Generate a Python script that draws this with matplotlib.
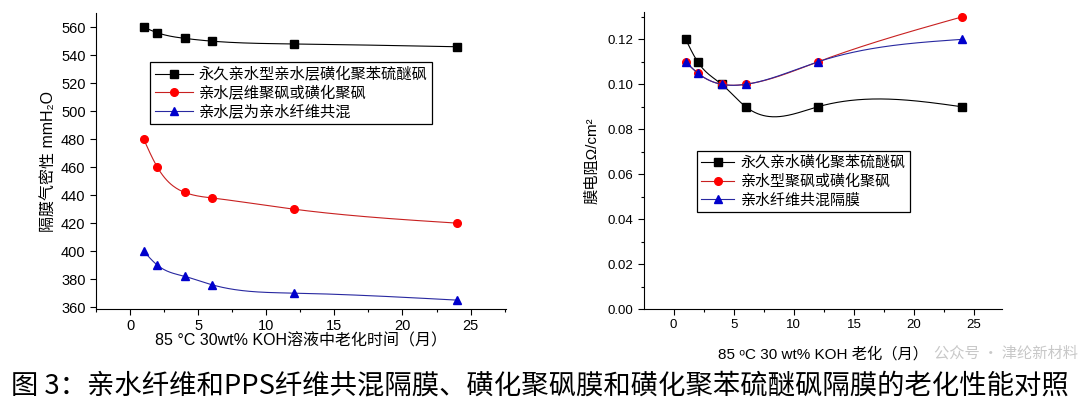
import numpy as np
import matplotlib
matplotlib.use("Agg")
import matplotlib.pyplot as plt
from matplotlib.ticker import MultipleLocator

plt.rcParams["font.family"] = ["Liberation Sans", "Noto Sans CJK SC", "DejaVu Sans"]

# aging time (months)
months = [1, 2, 4, 6, 12, 24]

# left: gas tightness (mmH2O)
left_labels = ["永久亲水型亲水层磺化聚苯硫醚砜", "亲水层维聚砜或磺化聚砜", "亲水层为亲水纤维共混"]
tight_pps = [560, 556, 552, 550, 548, 546]
tight_psf = [480, 460, 442, 438, 430, 420]
tight_fib = [400, 390, 382, 376, 370, 365]

# right: membrane resistance (ohm/cm2)
right_labels = ["永久亲水磺化聚苯硫醚砜", "亲水型聚砜或磺化聚砜", "亲水纤维共混隔膜"]
res_pps = [0.12, 0.11, 0.10, 0.09, 0.09, 0.09]
res_psf = [0.11, 0.105, 0.10, 0.10, 0.11, 0.13]
res_fib = [0.11, 0.105, 0.10, 0.10, 0.11, 0.12]

caption = "图 3：亲水纤维和PPS纤维共混隔膜、磺化聚砜膜和磺化聚苯硫醚砜隔膜的老化性能对照"


def spline_line(x, y, n=300):
    # natural cubic spline through the points (smooth connecting line like Origin)
    x = np.asarray(x, float)
    y = np.asarray(y, float)
    k = len(x)
    h = np.diff(x)
    A = np.zeros((k, k))
    b = np.zeros(k)
    A[0, 0] = 1
    A[-1, -1] = 1
    for i in range(1, k - 1):
        A[i, i - 1] = h[i - 1]
        A[i, i] = 2 * (h[i - 1] + h[i])
        A[i, i + 1] = h[i]
        b[i] = 6 * ((y[i + 1] - y[i]) / h[i] - (y[i] - y[i - 1]) / h[i - 1])
    m = np.linalg.solve(A, b)
    xs = np.linspace(x[0], x[-1], n)
    idx = np.clip(np.searchsorted(x, xs) - 1, 0, k - 2)
    x0, x1 = x[idx], x[idx + 1]
    hh = x1 - x0
    t0 = x1 - xs
    t1 = xs - x0
    ys = (m[idx] * t0 ** 3 + m[idx + 1] * t1 ** 3) / (6 * hh) \
        + (y[idx] / hh - m[idx] * hh / 6) * t0 \
        + (y[idx + 1] / hh - m[idx + 1] * hh / 6) * t1
    return xs, ys


def draw_series(ax, ys, color, lcolor, marker, label):
    xs, ss = spline_line(months, ys)
    ax.plot(xs, ss, color=lcolor, lw=0.8)
    ax.plot(months, ys, linestyle="none", marker=marker, color=color, ms=5.5)
    ax.plot([], [], color=lcolor, lw=0.8, marker=marker, mfc=color, mec=color,
            ms=5.5, label=label)


def style_axes(ax, fs):
    ax.spines["top"].set_visible(False)
    ax.spines["right"].set_visible(False)
    ax.tick_params(direction="out", length=4, width=0.8, labelsize=fs)
    ax.tick_params(which="minor", direction="out", length=2.5, width=0.8)
    ax.xaxis.set_major_locator(MultipleLocator(5))
    ax.xaxis.set_minor_locator(MultipleLocator(2.5))


fig = plt.figure(figsize=(10.8, 4.11), dpi=100)

# left chart
ax1 = fig.add_axes([0.0889, 0.248, 0.3796, 0.720])
draw_series(ax1, tight_pps, "black", "black", "s", left_labels[0])
draw_series(ax1, tight_psf, "red", "#c82020", "o", left_labels[1])
draw_series(ax1, tight_fib, "#0000cc", "#2828a0", "^", left_labels[2])
ax1.set_xlim(-2.5, 27.6)
ax1.set_ylim(358.6, 570)
ax1.yaxis.set_major_locator(MultipleLocator(20))
style_axes(ax1, 10.5)
ax1.set_xlabel("85 °C 30wt% KOH溶液中老化时间（月）", fontsize=11.5, labelpad=0)
ax1.set_ylabel("隔膜气密性 mmH₂O", fontsize=11.5, labelpad=4)
leg1 = ax1.legend(loc="upper left", bbox_to_anchor=(0.132, 0.834), borderaxespad=0,
                  fontsize=11, handlelength=2.5, handletextpad=0.4, labelspacing=0.25,
                  numpoints=1, fancybox=False, edgecolor="black", framealpha=1,
                  borderpad=0.3)
leg1.get_frame().set_linewidth(0.9)

# right chart
ax2 = fig.add_axes([0.5963, 0.248, 0.3312, 0.7235])
draw_series(ax2, res_pps, "black", "black", "s", right_labels[0])
draw_series(ax2, res_psf, "red", "#c82020", "o", right_labels[1])
draw_series(ax2, res_fib, "#0000cc", "#2828a0", "^", right_labels[2])
ax2.set_xlim(-2.47, 27.3)
ax2.set_ylim(0, 0.1323)
ax2.yaxis.set_major_locator(MultipleLocator(0.02))
ax2.yaxis.set_minor_locator(MultipleLocator(0.01))
ax2.yaxis.set_major_formatter(plt.FormatStrFormatter("%.2f"))
style_axes(ax2, 9.5)
ax2.set_xlabel("85 ᵒC 30 wt% KOH 老化（月）", fontsize=11, labelpad=11)
ax2.set_ylabel("膜电阻Ω/cm²", fontsize=11, labelpad=6)
leg2 = ax2.legend(loc="upper left", bbox_to_anchor=(0.148, 0.532), borderaxespad=0,
                  fontsize=10.8, handlelength=2.2, handletextpad=0.4, labelspacing=0.3,
                  numpoints=1, fancybox=False, edgecolor="black", framealpha=1,
                  borderpad=0.3)
leg2.get_frame().set_linewidth(0.9)

# watermark (kept clear of the x label) and caption
fig.text(0.998, 0.142, "公众号 · 津纶新材料", fontsize=11, color="#c8c8c8",
         ha="right", va="center", family=["Noto Sans CJK SC", "DejaVu Sans"])
fig.text(0.5, 0.062, caption, fontsize=19.7, ha="center", va="center",
         family=["Noto Sans CJK SC", "DejaVu Sans"])

fig.savefig("out.png", dpi=100)
